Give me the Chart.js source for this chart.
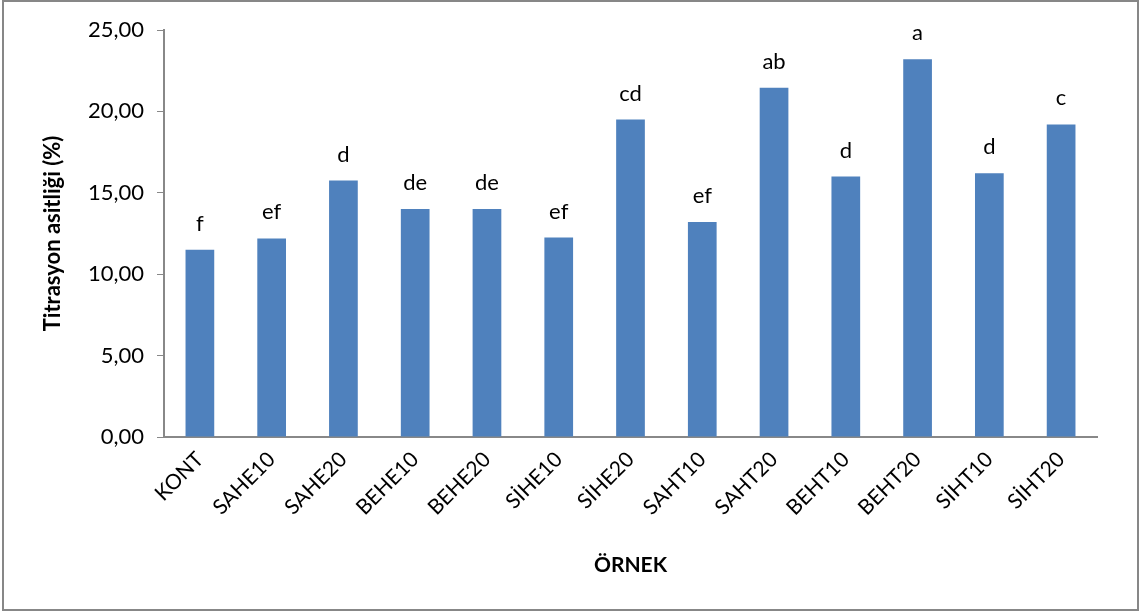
<!DOCTYPE html>
<html>
<head>
<meta charset="utf-8">
<script src="https://cdn.jsdelivr.net/npm/chart.js@4/dist/chart.umd.min.js"></script>
<style>
  html, body { margin: 0; padding: 0; background: #fff; }
  #wrap { width: 1141px; height: 614px; position: relative; }
</style>
</head>
<body>
<div id="wrap"><canvas id="bar-chartcanvas" width="1141" height="614"></canvas></div>
<script>
// samples
var categories = ['KONT', 'SAHE10', 'SAHE20', 'BEHE10', 'BEHE20', 'SİHE10', 'SİHE20',
                  'SAHT10', 'SAHT20', 'BEHT10', 'BEHT20', 'SİHT10', 'SİHT20'];
// titration acidity (%)
var values = [11.50, 12.20, 15.75, 14.00, 14.00, 12.25, 19.50,
              13.20, 21.45, 16.00, 23.20, 16.20, 19.20];
// significance letters above bars
var letters = ['f', 'ef', 'd', 'de', 'de', 'ef', 'cd', 'ef', 'ab', 'd', 'a', 'd', 'c'];

var FONT = 'Lato, "Open Sans", sans-serif';

// letters over each bar + outer frame
var labelPlugin = {
    id: 'letters',
    beforeDraw: function(chart) {
        var c = chart.ctx;
        c.save();
        c.fillStyle = '#fff';
        c.fillRect(0, 0, chart.width, chart.height);
        c.strokeStyle = '#878787';
        c.lineWidth = 2;
        c.strokeRect(3, 1, 1135, 609);
        c.restore();
    },
    afterDatasetsDraw: function(chart) {
        var c = chart.ctx;
        var meta = chart.getDatasetMeta(0);
        c.save();
        c.fillStyle = '#000';
        c.font = '22px ' + FONT;
        c.textAlign = 'center';
        c.textBaseline = 'alphabetic';
        meta.data.forEach(function(bar, i) {
            c.fillText(letters[i], bar.x, bar.y - 19);
        });
        c.restore();
    }
};

var ctx = document.getElementById('bar-chartcanvas');

var chart = new Chart(ctx, {
    type: 'bar',
    data: {
        labels: categories,
        datasets: [{
            data: values,
            backgroundColor: '#4F81BD',
            categoryPercentage: 1.0,
            barPercentage: 0.40
        }]
    },
    options: {
        responsive: false,
        animation: false,
        layout: { padding: { left: 40, right: 44, top: 30, bottom: 36 } },
        plugins: {
            legend: { display: false },
            tooltip: { enabled: false }
        },
        scales: {
            x: {
                afterFit: function(scale) { scale.height = 141; },
                grid: { display: false, drawTicks: false },
                border: { display: true, color: '#888', width: 2 },
                ticks: {
                    color: '#000',
                    font: { family: FONT, size: 21 },
                    minRotation: 45,
                    maxRotation: 45,
                    padding: 10
                },
                title: {
                    display: true,
                    text: 'ÖRNEK',
                    color: '#000',
                    font: { family: FONT, size: 21, weight: 'bold' },
                    padding: { top: 4, bottom: 0 }
                }
            },
            y: {
                min: 0,
                max: 25,
                afterFit: function(scale) { scale.width = 124; },
                grid: { drawOnChartArea: false, drawTicks: true, tickLength: 7, color: '#888' },
                border: { display: true, color: '#888', width: 2 },
                ticks: {
                    stepSize: 5,
                    color: '#000',
                    font: { family: FONT, size: 22 },
                    padding: 13,
                    callback: function(v) { return v.toFixed(2).replace('.', ','); }
                },
                title: {
                    display: true,
                    text: 'Titrasyon asitliği (%)',
                    color: '#000',
                    font: { family: FONT, size: 22, weight: 'bold' },
                    padding: { top: 0, bottom: 0 }
                }
            }
        }
    },
    plugins: [labelPlugin]
});
</script>
</body>
</html>
